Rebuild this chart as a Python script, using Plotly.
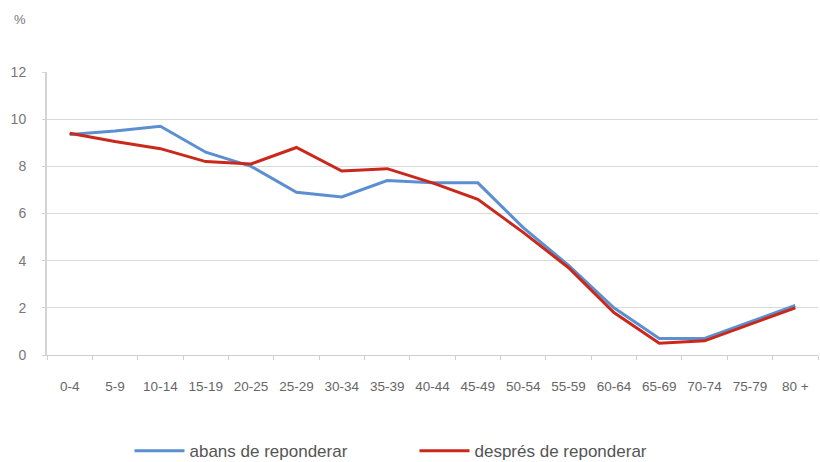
import plotly.graph_objects as go

categories = ["0-4", "5-9", "10-14", "15-19", "20-25", "25-29", "30-34", "35-39", "40-44",
              "45-49", "50-54", "55-59", "60-64", "65-69", "70-74", "75-79", "80 +"]
abans = [9.35, 9.5, 9.7, 8.6, 8.0, 6.9, 6.7, 7.4, 7.3, 7.3, 5.4, 3.8, 2.0, 0.7, 0.7, 1.4, 2.1]
despres = [9.4, 9.05, 8.75, 8.2, 8.1, 8.8, 7.8, 7.9, 7.3, 6.6, 5.2, 3.7, 1.8, 0.5, 0.6, 1.3, 2.0]
y_ticks = [0, 2, 4, 6, 8, 10, 12]

fig = go.Figure()
fig.add_trace(go.Scatter(x=categories, y=abans, mode="lines", name="abans de reponderar",
                         line=dict(color="#5b8fd0", width=3)))
fig.add_trace(go.Scatter(x=categories, y=despres, mode="lines", name="després de reponderar",
                         line=dict(color="#c9281b", width=3)))

fig.update_layout(
    width=820, height=462,
    margin=dict(l=47, r=2, t=72, b=107, autoexpand=False),
    paper_bgcolor="white", plot_bgcolor="white",
    font=dict(family="Liberation Sans, Arial, sans-serif", color="#666666"),
    showlegend=True,
    legend=dict(orientation="h", x=0.107, xanchor="left", y=-0.34, yanchor="middle",
                font=dict(size=17, color="#555555"), entrywidth=220,
                itemwidth=50, traceorder="normal"),
    xaxis=dict(type="category", range=[-0.5, 16.5], showgrid=False,
               showline=True, linecolor="#cfcfcf", linewidth=1,
               ticks="outside", tickson="boundaries", ticklen=4, tickcolor="#cfcfcf",
               tickfont=dict(size=13.5, color="#666666"), ticklabelstandoff=19),
    yaxis=dict(range=[0, 12], tickvals=y_ticks, showgrid=True, gridcolor="#d9d9d9",
               gridwidth=1, showline=True, linecolor="#d4d4d4", linewidth=2,
               ticks="outside", ticklen=3, tickcolor="#d4d4d4",
               tickfont=dict(size=14, color="#777777"), ticklabelstandoff=13,
               zeroline=False),
    annotations=[dict(text="%", x=-0.046, y=1.184, xref="paper", yref="paper",
                      showarrow=False, xanchor="left", yanchor="middle",
                      font=dict(size=13, color="#777777"))],
)

fig.write_html("out.html", config={"displayModeBar": False},
               post_script="document.body.style.margin='0';document.body.style.overflow='hidden';")
